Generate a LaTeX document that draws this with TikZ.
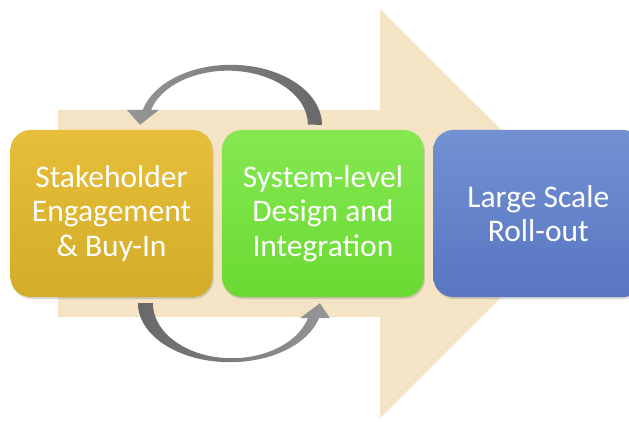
\documentclass[tikz,border=0pt]{standalone}
\usepackage{fontspec}
\setmainfont{Carlito}
\usetikzlibrary{positioning, shadows}

\definecolor{beige}{RGB}{244,227,196}
\definecolor{goldtop}{RGB}{231,191,58}
\definecolor{goldbot}{RGB}{211,172,40}
\definecolor{limetop}{RGB}{133,232,82}
\definecolor{limebot}{RGB}{106,218,50}
\definecolor{bluetop}{RGB}{114,145,210}
\definecolor{bluebot}{RGB}{88,118,194}
\definecolor{loopdark}{RGB}{104,104,104}
\definecolor{looplight}{RGB}{150,150,150}

\begin{document}
\begin{tikzpicture}[x=1pt, y=1pt,
    stage/.style={rounded corners=20pt, minimum width=202pt, minimum height=167pt,
        align=center, text=white, font=\fontsize{31.5}{34.5}\selectfont,
        drop shadow={opacity=0.3, shadow xshift=1pt, shadow yshift=-2pt}}]
    \useasboundingbox (0,0) rectangle (629,421);

    % Big background arrow
    \fill[beige] (58,104) -- (380,104) -- (380,3) -- (585,207.5) -- (380,412) -- (380,311) -- (58,311) -- cycle;

    % The three stages
    \node[stage, top color=goldtop, bottom color=goldbot] (stake) at (111.5,207.5) {Stakeholder\\Engagement\\\& Buy-In};
    \node[stage, top color=limetop, bottom color=limebot, right=9pt of stake] (design) {System-level\\Design and\\Integration};
    \node[stage, top color=bluetop, bottom color=bluebot, minimum width=210pt, right=9pt of design] (rollout) {Large Scale\\Roll-out};

    % End points of the two loop arrows
    \path (design.north) ++(-1,5) coordinate (tstart);
    \path (stake.north) ++(28.5,5) coordinate (ttip);
    \path (stake.south) ++(26.5,-6) coordinate (bstart);
    \path (design.south) ++(-3,-6) coordinate (btip);

    % Loop back over the top
    \shade[left color=looplight, right color=loopdark]
        (tstart) arc[start angle=0, end angle=165.5, x radius=91pt, y radius=60pt]
        -- ++(-16,0) -- (ttip) -- ++(19,15) -- ++(-8,0)
        arc[start angle=164, end angle=0, x radius=80pt, y radius=54pt] -- cycle;

    % Loop forward underneath
    \shade[left color=loopdark, right color=looplight]
        (bstart) arc[start angle=180, end angle=345.3, x radius=92pt, y radius=59pt]
        -- ++(11,0) -- (btip) -- ++(-20,-15) -- ++(8,0)
        arc[start angle=344.2, end angle=180, x radius=79pt, y radius=55pt] -- cycle;
\end{tikzpicture}
\end{document}
